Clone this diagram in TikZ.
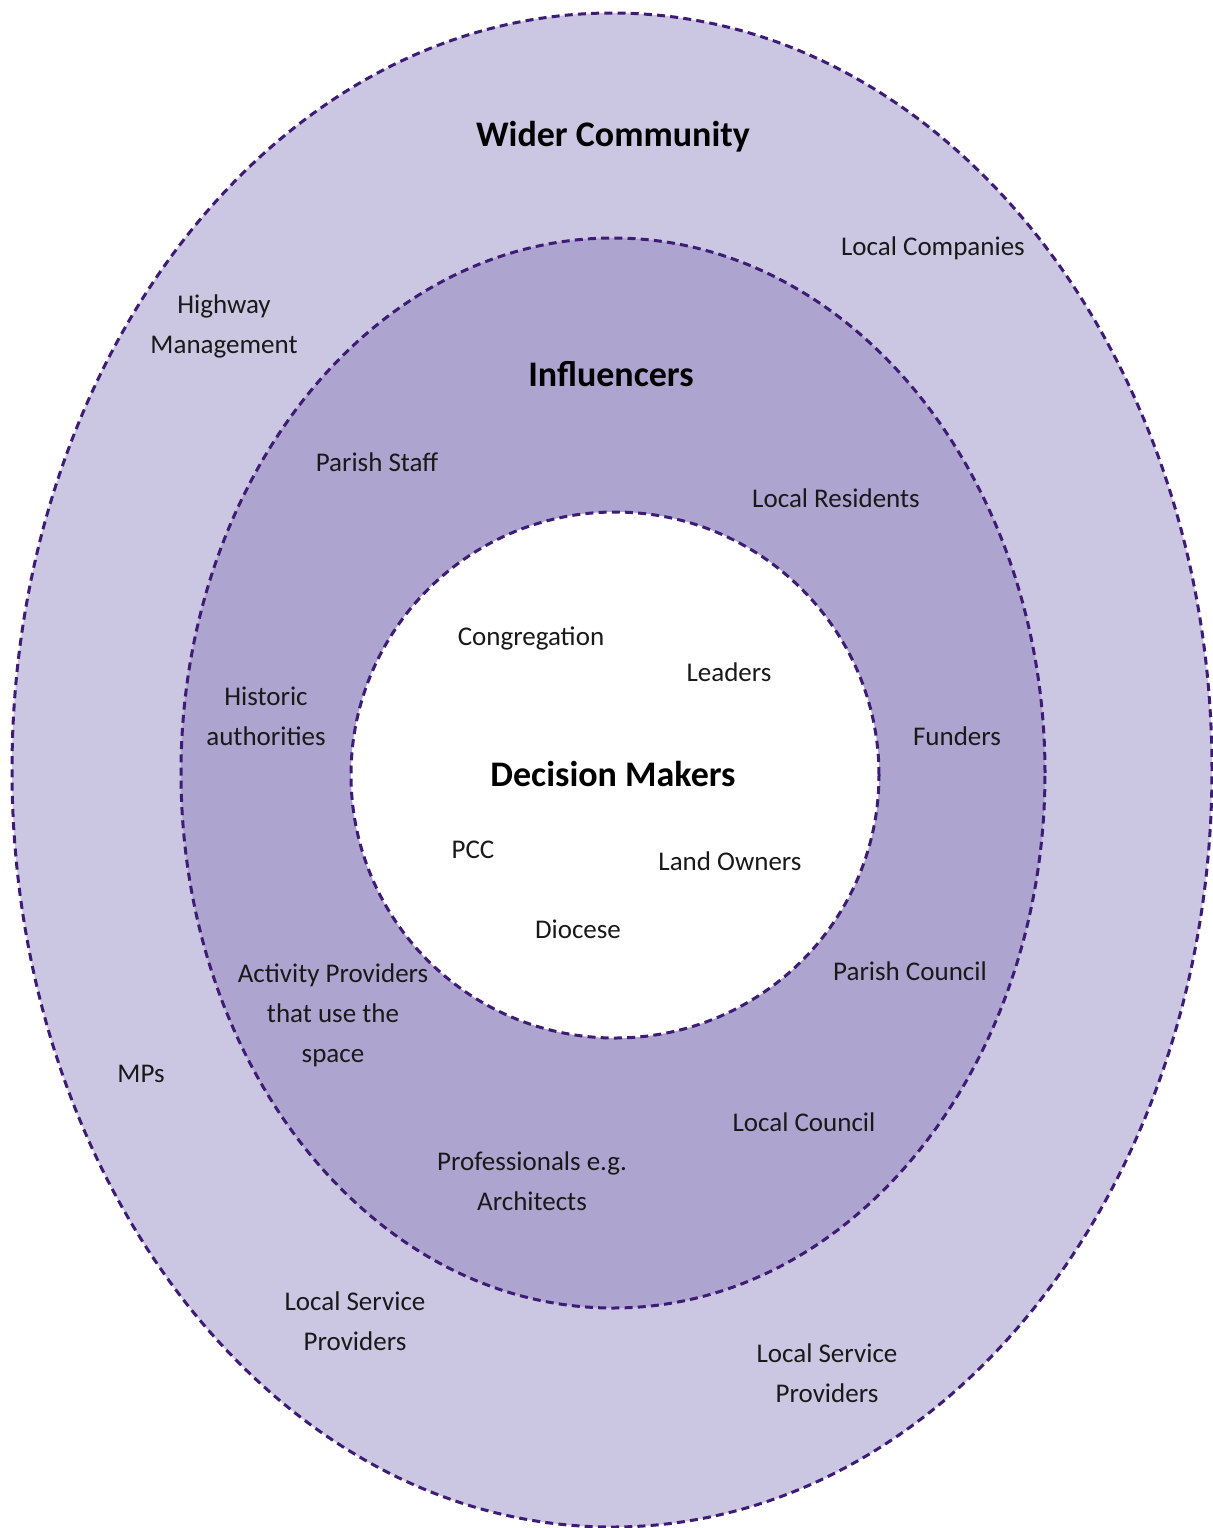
\documentclass[tikz,border=0pt]{standalone}
\usepackage{fontspec}
\setmainfont{Carlito}
\usetikzlibrary{shapes.geometric}
\definecolor{ringline}{RGB}{62,28,118}
\definecolor{outerfill}{RGB}{203,198,225}
\definecolor{middlefill}{RGB}{173,165,207}
\begin{document}
\begin{tikzpicture}[
        x=0.5pt, y=-0.5pt,
        ring/.style={draw=ringline, ellipse, line width=1.5pt, dash pattern=on 4pt off 2.6pt, inner sep=0pt, outer sep=0pt},
        title/.style={font=\fontsize{18}{22}\selectfont\bfseries, text=black},
        party/.style={font=\fontsize{13.5}{20}\selectfont, align=center, text=black!90},
    ]
    \useasboundingbox (0,0) rectangle (1213,1528);

    % the three rings
    \node[ring, fill=outerfill, minimum width=600pt, minimum height=757pt](wider) at (612,770){};
    \node[ring, fill=middlefill, minimum width=432pt, minimum height=535pt](influence) at (613,773){};
    \node[ring, fill=white, minimum width=264pt, minimum height=263pt](decision) at (615,775){};

    % headings
    \node[title](widerT) at (613,137){Wider Community};
    \node[title](influenceT) at (611,374){Influencers};
    \node[title](decisionT) at (613,774){Decision Makers};

    % wider community
    \node[party](companies) at (933,248){Local Companies};
    \node[party](highway) at (224,326){Highway\\Management};
    \node[party](mps) at (141,1074){MPs};
    \node[party](serviceL) at (355,1321){Local Service\\Providers};
    \node[party](serviceR) at (827,1373){Local Service\\Providers};

    % influencers
    \node[party](staff) at (377,462){Parish Staff};
    \node[party](residents) at (836,498){Local Residents};
    \node[party](historic) at (266,716){Historic\\authorities};
    \node[party](funders) at (957,736){Funders};
    \node[party](activity) at (333,1015){Activity Providers\\that use the\\space};
    \node[party](parishc) at (910,971){Parish Council};
    \node[party](localc) at (804,1122){Local Council};
    \node[party](profs) at (532,1181){Professionals e.g.\\Architects};

    % decision makers
    \node[party](congregation) at (531,638){Congregation};
    \node[party](leaders) at (729,672){Leaders};
    \node[party](pcc) at (473,850){PCC};
    \node[party](owners) at (730,861){Land Owners};
    \node[party](diocese) at (578,929){Diocese};

    \end{tikzpicture}
\end{document}
